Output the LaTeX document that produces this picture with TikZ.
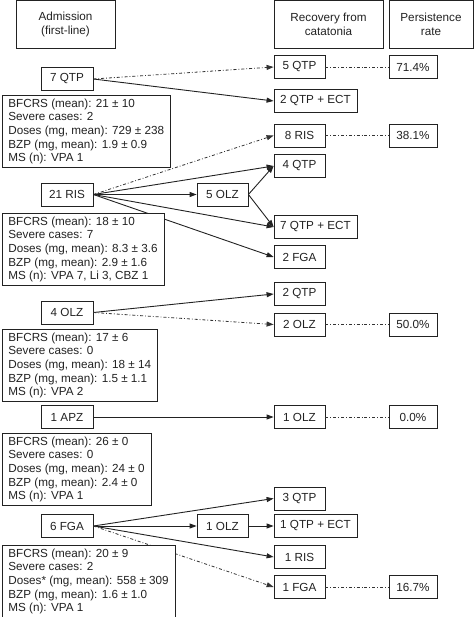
\documentclass[tikz,border=0pt]{standalone}
\usepackage{fontspec}
\setmainfont{Liberation Sans}
\usetikzlibrary{arrows.meta}
\definecolor{flowink}{HTML}{222222}
\definecolor{flowgray}{HTML}{333333}

\begin{document}
\begin{tikzpicture}[x=1pt, y=-1pt, font=\fontsize{11.7}{13.6}\selectfont, text=flowink,
    box/.style={draw=flowink, line width=0.8pt, minimum height=23pt, inner sep=0pt},
    drug/.style={box, minimum width=52pt},
    drugwide/.style={box, minimum width=83pt},
    rate/.style={box, minimum width=48pt},
    header/.style={draw=flowink, line width=0.8pt, minimum height=48pt, align=center, inner sep=0pt},
    info/.style={draw=flowink, line width=0.8pt, fill=white, anchor=north west, align=left,
      inner xsep=6.5pt, inner ysep=3.5pt},
    flow/.style={draw=flowink, line width=0.9pt, -{Triangle[length=7pt, width=5pt]}},
    keep/.style={draw=flowgray, line width=0.8pt, dash pattern=on 3pt off 2pt on 0.8pt off 2pt,
      -{Triangle[length=7pt, width=5pt]}},
    keepline/.style={draw=flowgray, line width=0.8pt, dash pattern=on 3pt off 2pt on 0.8pt off 2pt}]
  \useasboundingbox (0,0) rectangle (474,617);

  \node[header, minimum width=99pt] (hadm) at (65.5,24.5) {Admission\\(first-line)};
  \node[header, minimum width=109pt] (hrec) at (328.5,24.5) {Recovery from\\catatonia};
  \node[header, minimum width=84pt] (hper) at (431,24.5) {Persistence\\rate};

  \node[drug] (a7qtp) at (67,79) {7 QTP};
  \node[drug, minimum width=51pt] (r5qtp) at (299.5,67) {5 QTP};
  \node[rate] (p714) at (413,67) {71.4\%};
  \node[drugwide] (r2qtpect) at (315.5,101) {2 QTP + ECT};

  \node[drug, minimum width=51pt] (r8ris) at (299.5,135.5) {8 RIS};
  \node[rate] (p381) at (413,135.5) {38.1\%};
  \node[drug, minimum width=51pt] (r4qtp) at (299.5,166) {4 QTP};
  \node[drug] (a21ris) at (67,194.5) {21 RIS};
  \node[drug, minimum width=51pt] (m5olz) at (222.5,194.5) {5 OLZ};
  \node[drugwide] (r7qtpect) at (315.5,227) {7 QTP + ECT};
  \node[drug, minimum width=51pt] (r2fga) at (299.5,257) {2 FGA};

  \node[drug, minimum width=51pt] (r2qtp) at (299.5,294) {2 QTP};
  \node[drug] (a4olz) at (67,312.5) {4 OLZ};
  \node[drug, minimum width=51pt] (r2olz) at (299.5,324.5) {2 OLZ};
  \node[rate] (p500) at (413,324.5) {50.0\%};

  \node[drug] (a1apz) at (67,417) {1 APZ};
  \node[drug, minimum width=51pt] (r1olz) at (299.5,417) {1 OLZ};
  \node[rate] (p00) at (413,417) {0.0\%};

  \node[drug, minimum width=51pt] (r3qtp) at (299.5,498.5) {3 QTP};
  \node[drug] (a6fga) at (67,526) {6 FGA};
  \node[drug, minimum width=51pt] (m1olz) at (222.5,526) {1 OLZ};
  \node[drugwide] (r1qtpect) at (315.5,526) {1 QTP + ECT};
  \node[drug, minimum width=51pt] (r1ris) at (299.5,557) {1 RIS};
  \node[drug, minimum width=51pt] (r1fga) at (299.5,587) {1 FGA};
  \node[rate] (p167) at (413,587) {16.7\%};

  \draw[keep] (a7qtp.east) -- (r5qtp.west);
  \draw[flow] (a7qtp.east) -- (r2qtpect.west);
  \draw[keepline] (r5qtp.east) -- (p714.west);

  \draw[keep] (a21ris.east) -- (r8ris.west);
  \draw[flow] (a21ris.east) -- (r4qtp.west);
  \draw[flow] (a21ris.east) -- (m5olz.west);
  \draw[flow] (a21ris.east) -- (r7qtpect.west);
  \draw[flow] (a21ris.east) -- (r2fga.west);
  \draw[flow] (m5olz.east) -- (r4qtp.west);
  \draw[flow] (m5olz.east) -- (r7qtpect.west);
  \draw[keepline] (r8ris.east) -- (p381.west);

  \draw[flow] (a4olz.east) -- (r2qtp.west);
  \draw[keep] (a4olz.east) -- (r2olz.west);
  \draw[keepline] (r2olz.east) -- (p500.west);

  \draw[flow] (a1apz.east) -- (r1olz.west);
  \draw[keepline] (r1olz.east) -- (p00.west);

  \draw[flow] (a6fga.east) -- (r3qtp.west);
  \draw[flow] (a6fga.east) -- (m1olz.west);
  \draw[flow] (a6fga.east) -- (r1ris.west);
  \draw[flow] (m1olz.east) -- (r1qtpect.west);
  \draw[keep] (a6fga.east) -- (r1fga.west);
  \draw[keepline] (r1fga.east) -- (p167.west);

  \node[info] (info7qtp) at (1.5,95) {BFCRS (mean): 21 ± 10\\Severe cases: 2\\Doses (mg, mean): 729 ± 238\\BZP (mg, mean): 1.9 ± 0.9\\MS (n): VPA 1};
  \node[info] (info21ris) at (1.5,213) {BFCRS (mean): 18 ± 10\\Severe cases: 7\\Doses (mg, mean): 8.3 ± 3.6\\BZP (mg, mean): 2.9 ± 1.6\\MS (n): VPA 7, Li 3, CBZ 1};
  \node[info] (info4olz) at (1.5,329) {BFCRS (mean): 17 ± 6\\Severe cases: 0\\Doses (mg, mean): 18 ± 14\\BZP (mg, mean): 1.5 ± 1.1\\MS (n): VPA 2};
  \node[info] (info1apz) at (1.5,433) {BFCRS (mean): 26 ± 0\\Severe cases: 0\\Doses (mg, mean): 24 ± 0\\BZP (mg, mean): 2.4 ± 0\\MS (n): VPA 1};
  \node[info] (info6fga) at (1.5,545) {BFCRS (mean): 20 ± 9\\Severe cases: 2\\Doses* (mg, mean): 558 ± 309\\BZP (mg, mean): 1.6 ± 1.0\\MS (n): VPA 1};
\end{tikzpicture}
\end{document}
